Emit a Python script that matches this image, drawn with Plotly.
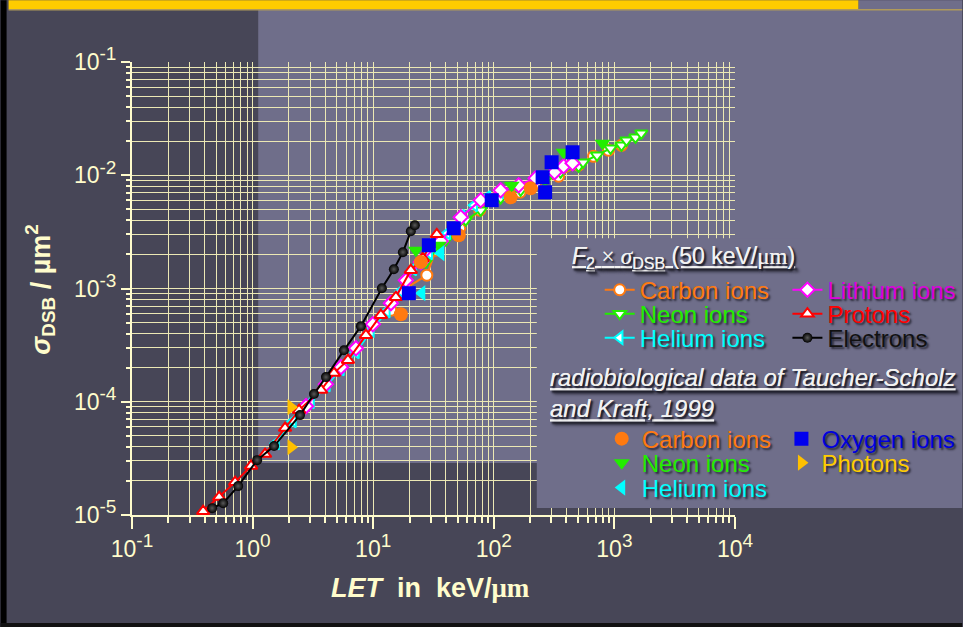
import plotly.graph_objects as go

# ---------------- data (LET in keV/um, sigma_DSB in um^2) ----------------
electrons_let = [0.462, 0.570, 0.759, 1.090, 1.507, 2.473, 3.228, 4.059, 5.722, 7.910, 11.80, 14.84, 17.62, 20.51, 22.14]
electrons_sig = [1.15e-5, 1.27e-5, 1.80e-5, 3.05e-5, 4.06e-5, 7.62e-5, 1.17e-4, 1.65e-4, 2.85e-4, 4.65e-4, 1.006e-3, 1.48e-3, 2.09e-3, 3.20e-3, 3.62e-3]

protons_let = [0.389, 0.528, 0.716, 0.972, 1.269, 1.858, 2.427, 3.690, 4.728, 6.174, 8.70, 11.58, 15.41, 20.51, 25.79, 33.68]
protons_sig = [1.08e-5, 1.44e-5, 1.95e-5, 2.71e-5, 3.45e-5, 5.85e-5, 8.43e-5, 1.27e-4, 1.79e-4, 2.33e-4, 3.87e-4, 5.81e-4, 8.38e-4, 1.45e-3, 1.85e-3, 3.01e-3]

helium_let = [1.565, 2.164, 3.051, 4.138, 5.404, 7.192, 9.57, 12.98, 16.96, 21.52, 29.19, 41.14, 53.72, 68.8, 88.2, 114.0]
helium_sig = [4.31e-5, 6.74e-5, 9.92e-5, 1.40e-4, 1.94e-4, 2.74e-4, 4.20e-4, 6.30e-4, 9.47e-4, 1.48e-3, 2.05e-3, 3.08e-3, 4.35e-3, 5.44e-3, 6.39e-3, 7.08e-3]

lithium_let = [2.773, 4.059, 5.404, 7.192, 9.94, 14.02, 18.66, 24.83, 36.35, 53.21, 77.9, 114.0, 160.8, 222.3, 319.3, 379.0, 449.9]
lithium_sig = [9.14e-5, 1.43e-4, 2.02e-4, 2.97e-4, 4.84e-4, 7.42e-4, 1.18e-3, 1.71e-3, 2.62e-3, 4.26e-3, 6.02e-3, 7.37e-3, 8.16e-3, 9.41e-3, 1.063e-2, 1.20e-2, 1.276e-2]

carbon_let = [14.02, 18.66, 27.83, 33.04, 52.20, 76.4, 103.7, 165.1, 222.3, 344.5, 504.3, 671.4, 893.8, 1145]
carbon_sig = [6.43e-4, 1.006e-3, 1.31e-3, 2.18e-3, 3.40e-3, 4.91e-3, 6.27e-3, 7.08e-3, 8.50e-3, 9.80e-3, 1.225e-2, 1.47e-2, 1.662e-2, 1.839e-2]

neon_let = [27.31, 39.99, 58.53, 77.9, 114.0, 167.0, 266.4, 357.9, 504.3, 549.7, 717.8, 928.4, 1145, 1260, 1495, 1670]
neon_sig = [1.71e-3, 2.67e-3, 4.01e-3, 4.91e-3, 6.27e-3, 7.37e-3, 9.03e-3, 1.063e-2, 1.20e-2, 1.302e-2, 1.502e-2, 1.731e-2, 1.839e-2, 2.036e-2, 2.164e-2, 2.349e-2]

# radiobiological data (Taucher-Scholz and Kraft, 1999)
carbon_exp_let = [16.96, 24.83, 51.21, 138.0, 202.1]
carbon_exp_sig = [5.93e-4, 1.71e-3, 2.95e-3, 6.39e-3, 7.68e-3]
neon_exp_let = [22.57, 34.99, 140.7, 379.0, 797.0]
neon_exp_sig = [2.18e-3, 2.41e-3, 8.16e-3, 1.596e-2, 1.916e-2]
helium_exp_let = [25.31, 36.35]
helium_exp_sig = [9.09e-4, 2.05e-3]
oxygen_let = [19.75, 28.92, 46.56, 96.1, 254.0, 266.4, 301.5, 449.9]
oxygen_sig = [9.09e-4, 2.41e-3, 3.40e-3, 6.02e-3, 9.60e-3, 7.08e-3, 1.302e-2, 1.596e-2]
photon_let = [2.083, 2.083]
photon_sig = [8.96e-5, 3.97e-5]

x_tick_vals = [1e-1, 1e0, 1e1, 1e2, 1e3, 1e4]
x_tick_exp = ["-1", "0", "1", "2", "3", "4"]
y_tick_vals = [1e-5, 1e-4, 1e-3, 1e-2, 1e-1]
y_tick_exp = ["-5", "-4", "-3", "-2", "-1"]

# ---------------- styling ----------------
W, H = 963, 627
X0, X1, YB, YT = 131.6, 735.5, 515.0, 61.7

def pxx(p):
    return (p - X0) / (X1 - X0)

def pyy(p):
    return (YB - p) / (YB - YT)

DARK = "#474657"
LIGHT = "#6f6e8a"
CREAM = "#fffccc"
GRID = "#ece8b4"
FONT = "Liberation Sans, Arial, sans-serif"
SHADOW = "2px 2px 2px rgba(20,20,30,0.75)"

ORANGE = "#ff7a10"
GREEN = "#22ee00"
CYAN = "#00ffff"
MAGENTA = "#ff00ff"
RED = "#ff0000"
BLUE = "#0000ee"
GOLD = "#ffc000"

def power_label(e):
    return "10<sup><span style='font-size:19px'>" + e + "</span></sup>"

fig = go.Figure()

model = [
    ("Carbon ions", carbon_let, carbon_sig, ORANGE, "circle", "legend", 605, 290),
    ("Neon ions", neon_let, neon_sig, GREEN, "triangle-down", "legend2", 605, 314),
    ("Helium ions", helium_let, helium_sig, CYAN, "triangle-left", "legend3", 605, 338),
    ("Lithium ions", lithium_let, lithium_sig, MAGENTA, "diamond", "legend4", 793, 290),
    ("Protons", protons_let, protons_sig, RED, "triangle-up", "legend5", 793, 314),
]
legends = {}
for name, xs, ys, col, sym, lg, lx, ly in model:
    fig.add_trace(go.Scatter(
        x=xs, y=ys, name=name, mode="lines+markers", legend=lg,
        line=dict(color=col, width=2),
        marker=dict(symbol=sym, size=11, color="white", line=dict(color=col, width=2)),
    ))
    legends[lg] = (lx - 5, ly, "#dd00dd" if col == MAGENTA else col)

fig.add_trace(go.Scatter(
    x=electrons_let, y=electrons_sig, name="Electrons", mode="lines+markers", legend="legend6",
    line=dict(color="black", width=2),
    marker=dict(symbol="circle", size=10, color="black",
                gradient=dict(type="radial", color="#5a5a5a"), line=dict(width=0)),
))
legends["legend6"] = (793 - 5, 338, "#111111")

exp = [
    ("Carbon ions", carbon_exp_let, carbon_exp_sig, ORANGE, "circle", "legend7", 622, 439, ORANGE),
    ("Neon ions", neon_exp_let, neon_exp_sig, GREEN, "triangle-down", "legend8", 622, 463, GREEN),
    ("Helium ions", helium_exp_let, helium_exp_sig, CYAN, "triangle-left", "legend9", 622, 488, CYAN),
    ("Oxygen ions", oxygen_let, oxygen_sig, BLUE, "square", "legend10", 802, 439, "#0000dd"),
    ("Photons", photon_let, photon_sig, GOLD, "triangle-right", "legend11", 802, 463, "#ffcc00"),
]
for name, xs, ys, col, sym, lg, mx, ly, tcol in exp:
    fig.add_trace(go.Scatter(
        x=xs, y=ys, name=name, mode="markers", legend=lg,
        marker=dict(symbol=sym, size=14, color=col, line=dict(width=0)),
    ))
    legends[lg] = (mx - 20, ly, tcol)

layout_legends = {}
for lg, (lx, ly, tcol) in legends.items():
    layout_legends[lg] = dict(
        x=pxx(lx), y=pyy(ly), xanchor="left", yanchor="middle",
        bgcolor="rgba(0,0,0,0)", borderwidth=0, itemwidth=30,
        font=dict(family=FONT, size=24, color=tcol, shadow=SHADOW),
        tracegroupgap=0,
    )

def minor_vals(lo, hi):
    vals = []
    for e in range(lo, hi):
        for k in range(2, 10):
            vals.append(k * 10.0 ** e)
    return vals

axis_common = dict(
    type="log", showline=True, linecolor=CREAM, linewidth=2,
    showgrid=True, gridcolor=GRID, gridwidth=1, zeroline=False,
    ticks="outside", tickcolor=CREAM, tickwidth=2,
    tickfont=dict(family=FONT, size=23, color=CREAM),
)

fig.update_xaxes(
    **axis_common, range=[-1, 4], tickmode="array", tickvals=x_tick_vals,
    ticktext=[power_label(e) for e in x_tick_exp],
    ticklen=12, mirror=False,
    minor=dict(tickvals=minor_vals(-1, 4), ticks="outside", ticklen=6, tickcolor=CREAM,
               tickwidth=1.5, showgrid=True, gridcolor=GRID, gridwidth=1),
)
fig.update_yaxes(
    **axis_common, range=[-5, -1], tickmode="array", tickvals=y_tick_vals,
    ticktext=[power_label(e) for e in y_tick_exp],
    ticklen=9,
    minor=dict(tickvals=minor_vals(-5, -1), ticks="outside", ticklen=4, tickcolor=CREAM,
               tickwidth=1.5, showgrid=True, gridcolor=GRID, gridwidth=1),
)

def rect(x0, y0, x1, y1, color, layer="below"):
    return dict(type="rect", xref="paper", yref="paper",
                x0=pxx(x0), x1=pxx(x1), y0=pyy(y1), y1=pyy(y0),
                fillcolor=color, line=dict(width=0), layer=layer)

shapes = [
    rect(258, 9, 963, 463, LIGHT),
    rect(859, 0, 963, 9, LIGHT),
    rect(8, 0, 859, 9, "#ffcc00", "above"),
    dict(type="line", xref="paper", yref="paper", x0=pxx(8), x1=pxx(963), y0=pyy(9.5), y1=pyy(9.5),
         line=dict(color="#b09a5a", width=1.5), layer="above"),
    rect(0, 0, 6, 627, "#000000", "above"),
    rect(0, 623, 963, 627, "#111111", "above"),
    rect(537, 238, 963, 508, LIGHT, "above"),
]

annotations = [
    dict(xref="paper", yref="paper", x=pxx(40), y=pyy(290), xanchor="center", yanchor="middle",
         textangle=-90, showarrow=False,
         text="<b><i>σ</i><sub>DSB</sub> / µm<sup>2</sup></b>",
         font=dict(family=FONT, size=27, color=CREAM)),
    dict(xref="paper", yref="paper", x=pxx(431), y=pyy(588), xanchor="center", yanchor="middle",
         showarrow=False,
         text="<b><i>LET</i>  in  keV/<span style='font-family:Liberation Serif'>μm</span></b>",
         font=dict(family=FONT, size=27, color=CREAM)),
    dict(xref="paper", yref="paper", x=pxx(570), y=pyy(257), xanchor="left", yanchor="middle",
         showarrow=False,
         text="<u><i>F</i><sub>2</sub> <span style='font-family:Liberation Serif'>×</span> "
              "<span style='font-family:Liberation Serif'><i>σ</i></span><sub>DSB</sub> "
              "(50 keV/<span style='font-family:Liberation Serif'>μm</span>)</u>",
         font=dict(family=FONT, size=23, color="#f2f2f2", shadow=SHADOW)),
    dict(xref="paper", yref="paper", x=pxx(548), y=pyy(393), xanchor="left", yanchor="middle",
         showarrow=False, align="left",
         text="<u><i>radiobiological data of Taucher-Scholz</i></u><br><u><i>and Kraft, 1999</i></u>",
         font=dict(family=FONT, size=24, color="#f2f2f2", shadow=SHADOW)),
]

fig.update_layout(
    width=W, height=H, autosize=False,
    margin=dict(l=X0, r=W - X1, t=YT, b=H - YB, pad=0, autoexpand=False),
    paper_bgcolor=DARK, plot_bgcolor="rgba(0,0,0,0)",
    showlegend=True,
    shapes=shapes, annotations=annotations,
    **layout_legends,
)

page_fix = ("document.documentElement.style.overflow='hidden';"
            "document.body.style.overflow='hidden';"
            "document.body.style.margin='0px';"
            "document.body.style.background='" + DARK + "';")

fig.write_html("out.html", post_script=page_fix,
               config={"displayModeBar": False, "responsive": False})
